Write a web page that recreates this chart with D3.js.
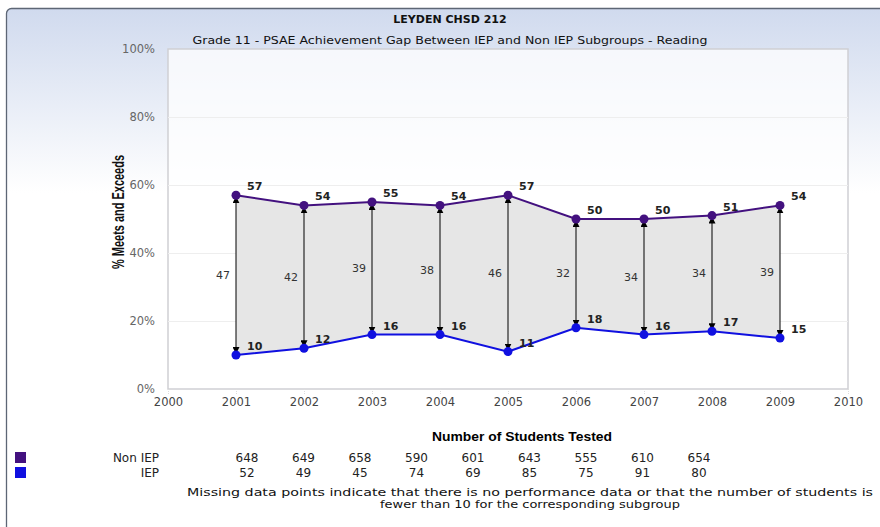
<!DOCTYPE html>
<html>
<head>
<meta charset="utf-8">
<script src="https://cdn.jsdelivr.net/npm/d3@7"></script>
<style>
  body { margin: 0; background: #fff; }
  svg { display: block; }
</style>
</head>
<body>
<div id="chart"></div>
<script>
// chart values
var years = [2001, 2002, 2003, 2004, 2005, 2006, 2007, 2008, 2009];
var nonIep = [57, 54, 55, 54, 57, 50, 50, 51, 54];
var iep = [10, 12, 16, 16, 11, 18, 16, 17, 15];
var nonIepTested = [648, 649, 658, 590, 601, 643, 555, 610, 654];
var iepTested = [52, 49, 45, 74, 69, 85, 75, 91, 80];
var yTicks = [0, 20, 40, 60, 80, 100];
var xTicks = [2000, 2001, 2002, 2003, 2004, 2005, 2006, 2007, 2008, 2009, 2010];

var W = 880, H = 527;
var NONIEP_COLOR = '#43117f';
var IEP_COLOR = '#1010e0';

var svg = d3.select('#chart').append('svg')
  .attr('width', W).attr('height', H);

var defs = svg.append('defs');
var bg = defs.append('linearGradient').attr('id', 'bg')
  .attr('x1', 0).attr('y1', 0).attr('x2', 0).attr('y2', 1);
bg.append('stop').attr('offset', '0%').attr('stop-color', '#d0daee');
bg.append('stop').attr('offset', '35%').attr('stop-color', '#ffffff');
bg.append('stop').attr('offset', '100%').attr('stop-color', '#ffffff');

// arrow heads for the gap lines
['start', 'end'].forEach(function (k) {
  defs.append('marker')
    .attr('id', 'arr-' + k)
    .attr('viewBox', '0 0 10 10')
    .attr('refX', 10).attr('refY', 5)
    .attr('markerWidth', 7).attr('markerHeight', 7)
    .attr('markerUnits', 'userSpaceOnUse')
    .attr('orient', k === 'start' ? 'auto-start-reverse' : 'auto')
    .append('path').attr('d', 'M0,0 L10,5 L0,10 z').attr('fill', '#000');
});

// outer frame
svg.append('rect')
  .attr('x', 6.5).attr('y', 8.5).attr('width', W).attr('height', H)
  .attr('rx', 5).attr('fill', 'url(#bg)')
  .attr('stroke', '#5d6675').attr('stroke-width', 1.3);

// scales
var x = d3.scaleLinear().domain([2000, 2010]).range([168, 848]);
var y = d3.scaleLinear().domain([0, 100]).range([389, 49]);

// plot area
svg.append('rect')
  .attr('x', x(2000)).attr('y', y(100))
  .attr('width', x(2010) - x(2000)).attr('height', y(0) - y(100))
  .attr('fill', '#ffffff').attr('fill-opacity', 0.75)
  .attr('stroke', '#cfcfd4').attr('stroke-width', 1.5);

svg.append('g').selectAll('line')
  .data(yTicks.filter(function (d) { return d > 0 && d < 100; }))
  .join('line')
  .attr('x1', x(2000)).attr('x2', x(2010))
  .attr('y1', function (d) { return y(d) + 0.5; })
  .attr('y2', function (d) { return y(d) + 0.5; })
  .attr('stroke', '#eeeeee');

// axes
var yAxis = d3.axisLeft(y).tickValues(yTicks)
  .tickFormat(function (d) { return d + '%'; }).tickSize(0).tickPadding(13);
var gy = svg.append('g').attr('transform', 'translate(' + x(2000) + ',0)').call(yAxis);
gy.select('.domain').remove();
gy.selectAll('text').attr('fill', '#666').style('font', '11.5px "DejaVu Sans", sans-serif');

var xAxis = d3.axisBottom(x).tickValues(xTicks).tickFormat(d3.format('d')).tickSize(5).tickPadding(4);
var gx = svg.append('g').attr('transform', 'translate(0,' + y(0) + ')').call(xAxis);
gx.select('.domain').remove();
gx.selectAll('line').attr('stroke', '#dddddd').attr('stroke-dasharray', '1,1');
gx.selectAll('text').attr('fill', '#444').style('font', '11.5px "DejaVu Sans", sans-serif');

// shaded gap between the two series
var rows = years.map(function (yr, i) {
  return { year: yr, hi: nonIep[i], lo: iep[i], gap: nonIep[i] - iep[i] };
});

svg.append('path')
  .datum(rows)
  .attr('fill', '#e6e6e6')
  .attr('d', d3.area()
    .x(function (d) { return x(d.year); })
    .y0(function (d) { return y(d.lo); })
    .y1(function (d) { return y(d.hi); }));

// gap arrows
svg.append('g').selectAll('line')
  .data(rows)
  .join('line')
  .attr('x1', function (d) { return x(d.year); })
  .attr('x2', function (d) { return x(d.year); })
  .attr('y1', function (d) { return y(d.hi) + 1; })
  .attr('y2', function (d) { return y(d.lo) - 1; })
  .attr('stroke', '#000').attr('stroke-width', 1)
  .attr('marker-start', 'url(#arr-start)')
  .attr('marker-end', 'url(#arr-end)');

svg.append('g').selectAll('text')
  .data(rows)
  .join('text')
  .attr('x', function (d) { return x(d.year) - 6; })
  .attr('y', function (d) { return y((d.hi + d.lo) / 2) + 4; })
  .attr('text-anchor', 'end')
  .attr('fill', '#333')
  .style('font', '11px "DejaVu Sans", sans-serif')
  .text(function (d) { return d.gap; });

// series lines, points, labels
function drawSeries(vals, color) {
  var pts = years.map(function (yr, i) { return { year: yr, v: vals[i] }; });
  svg.append('path')
    .datum(pts)
    .attr('fill', 'none').attr('stroke', color).attr('stroke-width', 2)
    .attr('d', d3.line()
      .x(function (d) { return x(d.year); })
      .y(function (d) { return y(d.v); }));
  svg.append('g').selectAll('circle')
    .data(pts).join('circle')
    .attr('cx', function (d) { return x(d.year); })
    .attr('cy', function (d) { return y(d.v); })
    .attr('r', 4.5).attr('fill', color);
  svg.append('g').selectAll('text')
    .data(pts).join('text')
    .attr('x', function (d) { return x(d.year) + 11; })
    .attr('y', function (d) { return y(d.v) - 5; })
    .attr('fill', '#222')
    .style('font', 'bold 11px "DejaVu Sans", sans-serif')
    .text(function (d) { return d.v; });
}
drawSeries(nonIep, NONIEP_COLOR);
drawSeries(iep, IEP_COLOR);

// titles
svg.append('text').attr('x', 450).attr('y', 23).attr('text-anchor', 'middle')
  .attr('fill', '#111')
  .style('font', 'bold 11px "DejaVu Sans", sans-serif')
  .text('LEYDEN CHSD 212');
svg.append('text').attr('x', 450).attr('y', 44).attr('text-anchor', 'middle')
  .attr('fill', '#111')
  .attr('textLength', 515).attr('lengthAdjust', 'spacingAndGlyphs')
  .style('font', '11px "DejaVu Sans", sans-serif')
  .text('Grade 11 - PSAE Achievement Gap Between IEP and Non IEP Subgroups - Reading');

svg.append('text')
  .attr('transform', 'translate(124,212) rotate(-90)')
  .attr('text-anchor', 'middle')
  .attr('fill', '#111')
  .attr('textLength', 114).attr('lengthAdjust', 'spacingAndGlyphs')
  .style('font', 'bold 16px "Liberation Sans", Arial, sans-serif')
  .text('% Meets and Exceeds');

// students tested table
svg.append('text').attr('x', 522).attr('y', 441).attr('text-anchor', 'middle')
  .attr('fill', '#000')
  .attr('textLength', 180).attr('lengthAdjust', 'spacingAndGlyphs')
  .style('font', 'bold 12px "Liberation Sans", Arial, sans-serif')
  .text('Number of Students Tested');

var tableRows = [
  { label: 'Non IEP', color: NONIEP_COLOR, vals: nonIepTested, yy: 462 },
  { label: 'IEP', color: IEP_COLOR, vals: iepTested, yy: 477 }
];
var colX = d3.scalePoint().domain(years).range([247, 699]);

tableRows.forEach(function (r) {
  svg.append('rect').attr('x', 15).attr('y', r.yy - 10)
    .attr('width', 11).attr('height', 11).attr('fill', r.color);
  svg.append('text').attr('x', 159).attr('y', r.yy).attr('text-anchor', 'end')
    .attr('fill', '#222')
    .style('font', '12px "DejaVu Sans", sans-serif')
    .text(r.label);
  svg.append('g').selectAll('text')
    .data(r.vals).join('text')
    .attr('x', function (d, i) { return colX(years[i]); })
    .attr('y', r.yy)
    .attr('text-anchor', 'middle')
    .attr('fill', '#222')
    .style('font', '12px "DejaVu Sans", sans-serif')
    .text(function (d) { return d; });
});

var notes = [
  'Missing data points indicate that there is no performance data or that the number of students is',
  'fewer than 10 for the corresponding subgroup'
];
svg.append('g').selectAll('text')
  .data(notes).join('text')
  .attr('x', 530)
  .attr('y', function (d, i) { return 496 + i * 12; })
  .attr('text-anchor', 'middle')
  .attr('fill', '#111')
  .attr('textLength', function (d, i) { return i === 0 ? 686 : 300; })
  .attr('lengthAdjust', 'spacingAndGlyphs')
  .style('font', '11px "DejaVu Sans Condensed", "DejaVu Sans", sans-serif')
  .text(function (d) { return d; });
</script>
</body>
</html>
